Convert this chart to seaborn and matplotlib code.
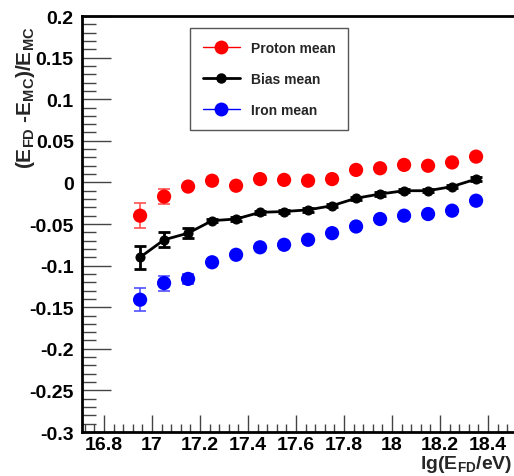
import numpy as np
import pandas as pd
import matplotlib
matplotlib.use("Agg")
import matplotlib.pyplot as plt
from matplotlib.ticker import MultipleLocator, FuncFormatter
from matplotlib.lines import Line2D
import seaborn as sns

energy = [16.95, 17.05, 17.15, 17.25, 17.35, 17.45, 17.55, 17.65, 17.75, 17.85, 17.95, 18.05, 18.15, 18.25, 18.35]
proton = [-0.040, -0.017, -0.005, 0.002, -0.004, 0.004, 0.003, 0.002, 0.004, 0.015, 0.017, 0.021, 0.020, 0.024, 0.031]
proton_err = [0.015, 0.009, 0.002, 0.002, 0.002, 0.002, 0.002, 0.002, 0.002, 0.002, 0.002, 0.002, 0.002, 0.002, 0.002]
bias = [-0.090, -0.069, -0.061, -0.046, -0.044, -0.036, -0.035, -0.033, -0.028, -0.019, -0.014, -0.010, -0.010, -0.005, 0.004]
bias_err = [0.014, 0.009, 0.006, 0.002, 0.002, 0.002, 0.002, 0.002, 0.002, 0.002, 0.002, 0.002, 0.002, 0.002, 0.002]
iron = [-0.141, -0.121, -0.116, -0.096, -0.087, -0.078, -0.075, -0.069, -0.061, -0.053, -0.044, -0.040, -0.038, -0.034, -0.022]
iron_err = [0.014, 0.009, 0.006, 0.002, 0.002, 0.002, 0.002, 0.002, 0.002, 0.002, 0.002, 0.002, 0.002, 0.002, 0.002]

df = pd.DataFrame({"E": energy, "proton": proton, "bias": bias, "iron": iron})

sns.set_style("ticks")
plt.rcParams['font.family'] = ['Liberation Sans', 'DejaVu Sans']
plt.rcParams['font.weight'] = 'bold'
plt.rcParams['mathtext.fontset'] = 'custom'
plt.rcParams['mathtext.rm'] = 'Liberation Sans:bold'
plt.rcParams['mathtext.bf'] = 'Liberation Sans:bold'
plt.rcParams['mathtext.it'] = 'Liberation Sans:bold'
plt.rcParams['mathtext.default'] = 'bf'

W, H = 514, 477
fig = plt.figure(figsize=(W / 100, H / 100), dpi=100)
ax = fig.add_axes([82 / W, (H - 433) / H, (W - 82) / W, (433 - 17) / H])

# error bars
ax.errorbar(energy, proton, yerr=proton_err, fmt='none', ecolor='#ff5050', elinewidth=1.2, capsize=4, capthick=1.2, zorder=2)
ax.errorbar(energy, iron, yerr=iron_err, fmt='none', ecolor='#5050ff', elinewidth=1.2, capsize=4, capthick=1.2, zorder=2)
ax.errorbar(energy, bias, yerr=bias_err, fmt='none', ecolor='black', elinewidth=2, capsize=4, capthick=2, zorder=3)

sns.scatterplot(data=df, x="E", y="proton", color="#ff0000", s=105, edgecolor="none", ax=ax, zorder=4)
sns.scatterplot(data=df, x="E", y="iron", color="#0000ff", s=105, edgecolor="none", ax=ax, zorder=4)
sns.lineplot(data=df, x="E", y="bias", color="black", linewidth=2, marker="o", markersize=6.5, markeredgecolor="black", ax=ax, zorder=5)

ax.set_xlim(16.708, 18.508)
ax.set_ylim(-0.3, 0.2)
ax.set_xlabel("")
ax.set_ylabel("")

ax.xaxis.set_major_locator(MultipleLocator(0.2))
ax.xaxis.set_minor_locator(MultipleLocator(0.04))
ax.yaxis.set_major_locator(MultipleLocator(0.05))
ax.yaxis.set_minor_locator(MultipleLocator(0.01))

def fmt(v, pos):
    s = f"{v:.2f}".rstrip('0').rstrip('.')
    if s in ("-0", "0."):
        s = "0"
    return s

ax.yaxis.set_major_formatter(FuncFormatter(fmt))
ax.xaxis.set_major_formatter(FuncFormatter(fmt))

ax.tick_params(axis='y', which='major', direction='in', length=21, width=1.0, labelsize=14, pad=6, colors='#444444', labelcolor='black')
ax.tick_params(axis='y', which='minor', direction='in', length=10, width=1.0, colors='#444444')
ax.tick_params(axis='x', which='major', direction='in', length=12, width=1.0, labelsize=14, pad=3, colors='#444444', labelcolor='black')
ax.tick_params(axis='x', which='minor', direction='in', length=6, width=1.0, colors='#444444')
for lab in ax.get_xticklabels() + ax.get_yticklabels():
    lab.set_fontweight('bold')

for s in ['left', 'bottom', 'top']:
    ax.spines[s].set_linewidth(2)
    ax.spines[s].set_color('black')
ax.spines['right'].set_visible(False)

fig.text(31 / W, 1 - 98 / H, "(E$_{FD}$ -E$_{MC}$)/E$_{MC}$", rotation=90, rotation_mode='anchor',
         ha='center', va='baseline', fontsize=15, fontweight='bold')
fig.text(512 / W, 1 - 469 / H, "lg(E$_{FD}$/eV)", ha='right', va='baseline', fontsize=14, fontweight='bold')

handles = [
    Line2D([0], [0], color='#ff0000', lw=1, marker='o', markersize=10, markeredgecolor='none'),
    Line2D([0], [0], color='black', lw=2, marker='o', markersize=6.5),
    Line2D([0], [0], color='#0000ff', lw=1, marker='o', markersize=10, markeredgecolor='none'),
]
leg = ax.legend(handles, ["Proton mean", "Bias mean", "Iron mean"], loc='upper left',
                bbox_to_anchor=((190 - 82) / (W - 82), (433 - 29) / (433 - 17)),
                frameon=True, fancybox=False, edgecolor='#555555', framealpha=1,
                prop={'weight': 'bold', 'size': 10}, labelspacing=1.25, handlelength=2.7,
                borderpad=0.9, handletextpad=0.8, borderaxespad=0)
leg.get_frame().set_linewidth(1)

fig.savefig("out.png", dpi=100)
